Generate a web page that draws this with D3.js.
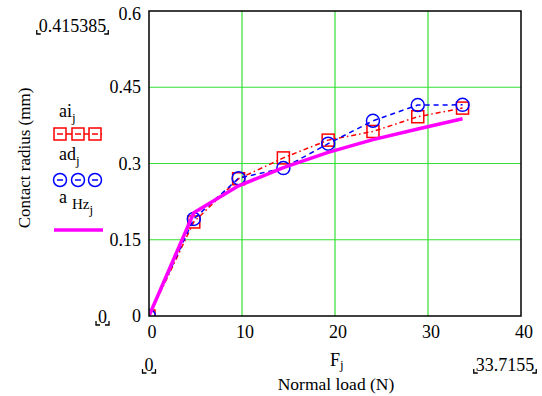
<!DOCTYPE html>
<html>
<head>
<meta charset="utf-8">
<script src="https://cdn.jsdelivr.net/npm/d3@7/dist/d3.min.js"></script>
<style>
  body { margin: 0; background: #fff; }
</style>
</head>
<body>
<div id="chart"></div>
<script>
// Normal load F_j (N) and contact radius series (mm)
const loads = [0, 4.8165, 9.633, 14.4495, 19.266, 24.0825, 28.899, 33.7155];
const aiValues = [0, 0.185, 0.270, 0.311, 0.346, 0.363, 0.392, 0.409];
const adValues = [0, 0.191, 0.271, 0.291, 0.339, 0.384, 0.415, 0.415385];
const aHzValues = [0, 0.203, 0.256, 0.292, 0.322, 0.347, 0.368, 0.388];
const xTicks = [0, 10, 20, 30, 40];
const yTicks = [0, 0.15, 0.3, 0.45, 0.6];

(function() {
  const W = 542, H = 396;
  const L = 149, R = 521, T = 11, B = 316;
  const FONT = '"Liberation Serif", "Times New Roman", "DejaVu Serif", serif';

  const svg = d3.select('#chart').append('svg').attr('width', W).attr('height', H)
    .attr('font-family', FONT).style('font-family', FONT);

  const x = d3.scaleLinear().domain([0, 40]).range([L, R]);
  const y = d3.scaleLinear().domain([0, 0.6]).range([B, T]);

  const txt = (sel, size) => sel.style('font-family', FONT).style('font-size', size + 'px').attr('fill', '#000');

  svg.append('clipPath').attr('id', 'plotclip')
    .append('rect').attr('x', L).attr('y', T).attr('width', R - L).attr('height', B - T);

  // grid
  const grid = svg.append('g');
  xTicks.slice(1, -1).forEach(t => {
    grid.append('line').attr('x1', x(t)).attr('x2', x(t)).attr('y1', T).attr('y2', B)
      .attr('stroke', '#33e033').attr('stroke-width', 1.2);
  });
  yTicks.slice(1, -1).forEach(t => {
    grid.append('line').attr('x1', L).attr('x2', R).attr('y1', y(t)).attr('y2', y(t))
      .attr('stroke', '#33e033').attr('stroke-width', 1.2);
  });

  // tick labels
  svg.append('g').selectAll('text').data(xTicks).join('text')
    .attr('x', d => x(d) + 3).attr('y', 338).attr('text-anchor', 'middle')
    .call(txt, 18).text(d => d);
  svg.append('g').selectAll('text').data(yTicks).join('text')
    .attr('x', 141).attr('y', d => d === 0.6 ? y(d) + 9 : y(d) + 6).attr('text-anchor', 'end')
    .call(txt, 18).text(d => d);

  const plot = svg.append('g').attr('clip-path', 'url(#plotclip)');
  const ptsOf = vals => loads.map((f, i) => [x(f), y(vals[i])]);
  const line = d3.line();

  // ai_j red dash-dot with squares
  plot.append('path').attr('d', line(ptsOf(aiValues))).attr('fill', 'none')
    .attr('stroke', '#ff0000').attr('stroke-width', 1.5).attr('stroke-dasharray', '5,3,1.5,3');
  plot.selectAll('.sq').data(ptsOf(aiValues)).join('rect').attr('class', 'sq')
    .attr('x', d => d[0] - 6).attr('y', d => d[1] - 6).attr('width', 12).attr('height', 12)
    .attr('fill', 'none').attr('stroke', '#ff0000').attr('stroke-width', 1.5);

  // ad_j blue dashed with circles
  plot.append('path').attr('d', line(ptsOf(adValues))).attr('fill', 'none')
    .attr('stroke', '#0000ff').attr('stroke-width', 1.5).attr('stroke-dasharray', '5,4');
  plot.selectAll('.ci').data(ptsOf(adValues)).join('circle').attr('class', 'ci')
    .attr('cx', d => d[0]).attr('cy', d => d[1]).attr('r', 6.5)
    .attr('fill', 'none').attr('stroke', '#0000ff').attr('stroke-width', 1.5);

  // a_Hz_j magenta solid
  plot.append('path').attr('d', line(ptsOf(aHzValues))).attr('fill', 'none')
    .attr('stroke', '#ff00ff').attr('stroke-width', 3.5).attr('stroke-linejoin', 'round');

  // frame
  svg.append('rect').attr('x', L).attr('y', T).attr('width', R - L).attr('height', B - T)
    .attr('fill', 'none').attr('stroke', '#000').attr('stroke-width', 1.5);

  // bracketed limit labels
  function bracketLabel(cx, base, s) {
    const t = svg.append('text').attr('x', cx).attr('y', base).attr('text-anchor', 'middle')
      .call(txt, 18).text(s);
    const bb = t.node().getBBox();
    const x0 = bb.x - 2, x1 = bb.x + bb.width + 2, yb = base + 2;
    svg.append('path').attr('d', `M${x0},${yb - 4}V${yb}H${x0 + 4}M${x1},${yb - 4}V${yb}H${x1 - 4}`)
      .attr('fill', 'none').attr('stroke', '#000').attr('stroke-width', 1.3);
  }
  bracketLabel(72.5, 32, '0.415385');
  bracketLabel(102.5, 323, '0');
  bracketLabel(149, 371, '0');
  bracketLabel(505, 371, '33.7155');

  // axis titles
  const fj = svg.append('text').attr('x', 330).attr('y', 366).call(txt, 18);
  fj.append('tspan').text('F');
  fj.append('tspan').attr('dy', 3).style('font-size', '13px').text('j');
  svg.append('text').attr('x', 336).attr('y', 390).attr('text-anchor', 'middle')
    .call(txt, 17.5).text('Normal load (N)');
  svg.append('text').attr('transform', 'translate(30,158) rotate(-90)').attr('text-anchor', 'middle')
    .call(txt, 17).text('Contact radius (mm)');

  // legend
  const lg = svg.append('g');
  const t1 = lg.append('text').attr('x', 59).attr('y', 117).call(txt, 18);
  t1.append('tspan').text('ai');
  t1.append('tspan').attr('dy', 5).style('font-size', '13px').text('j');
  lg.append('line').attr('x1', 55).attr('x2', 102).attr('y1', 134).attr('y2', 134)
    .attr('stroke', '#ff0000').attr('stroke-width', 1.5);
  [60, 78, 95].forEach(cx => lg.append('rect').attr('x', cx - 6).attr('y', 128).attr('width', 12).attr('height', 12)
    .attr('fill', '#fff').attr('stroke', '#ff0000').attr('stroke-width', 1.5));
  lg.selectAll(null).data([60, 78, 95]).join('line')
    .attr('x1', d => d - 3).attr('x2', d => d + 3).attr('y1', 134).attr('y2', 134)
    .attr('stroke', '#ff0000').attr('stroke-width', 1.5);

  const t2 = lg.append('text').attr('x', 59).attr('y', 160).call(txt, 18);
  t2.append('tspan').text('ad');
  t2.append('tspan').attr('dy', 5).style('font-size', '13px').text('j');
  [60, 78, 95].forEach(cx => lg.append('circle').attr('cx', cx).attr('cy', 180).attr('r', 6.5)
    .attr('fill', '#fff').attr('stroke', '#0000ff').attr('stroke-width', 1.5));
  lg.selectAll(null).data([60, 78, 95]).join('line')
    .attr('x1', d => d - 3).attr('x2', d => d + 3).attr('y1', 180).attr('y2', 180)
    .attr('stroke', '#0000ff').attr('stroke-width', 1.5);

  const t3 = lg.append('text').attr('x', 59).attr('y', 203).call(txt, 18);
  t3.append('tspan').text('a');
  t3.append('tspan').attr('dx', 5).attr('dy', 6).style('font-size', '15px').text('Hz');
  t3.append('tspan').attr('dy', 5).style('font-size', '13px').text('j');
  lg.append('line').attr('x1', 54).attr('x2', 103).attr('y1', 230).attr('y2', 230)
    .attr('stroke', '#ff00ff').attr('stroke-width', 3.5);
})();
</script>
</body>
</html>
